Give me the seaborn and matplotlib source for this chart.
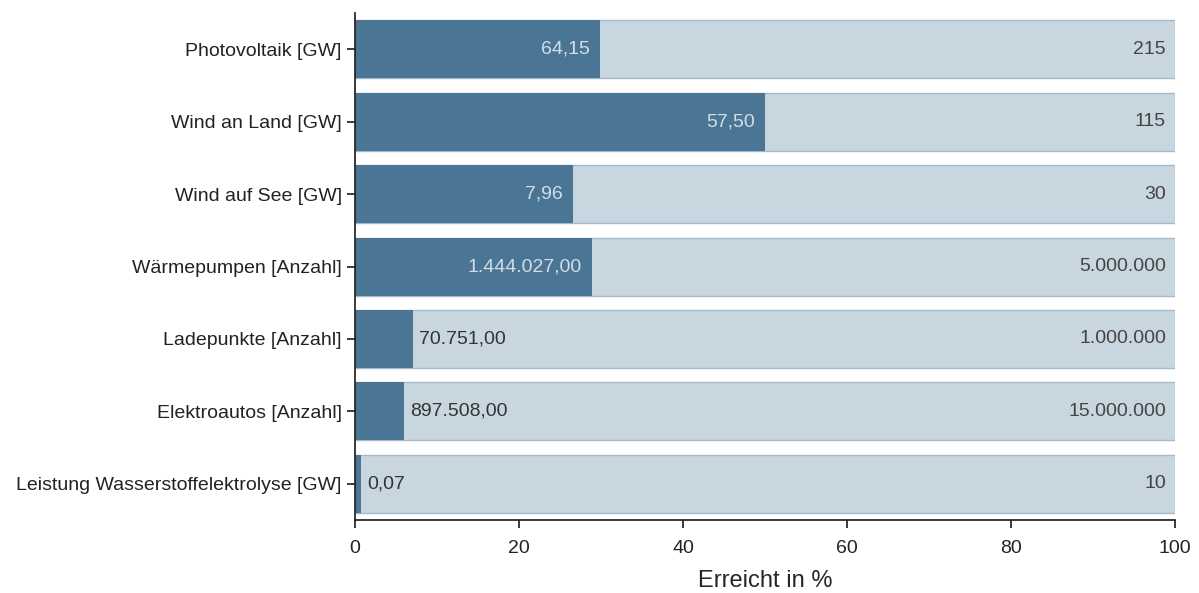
import matplotlib
matplotlib.use("Agg")
import matplotlib.pyplot as plt
import pandas as pd
import seaborn as sns

categories = [
    "Photovoltaik [GW]",
    "Wind an Land [GW]",
    "Wind auf See [GW]",
    "Wärmepumpen [Anzahl]",
    "Ladepunkte [Anzahl]",
    "Elektroautos [Anzahl]",
    "Leistung Wasserstoffelektrolyse [GW]",
]
current = [64.15, 57.50, 7.96, 1444027.00, 70751.00, 897508.00, 0.07]
target = [215, 115, 30, 5000000, 1000000, 15000000, 10]

DARK = "#4a7595"
LIGHT = "#c8d6e0"
EDGE = "#a3bacd"


def de_num(v, decimals):
    s = f"{v:,.{decimals}f}"
    return s.replace(",", "X").replace(".", ",").replace("X", ".")


df = pd.DataFrame({"cat": categories, "cur": current, "target": target})
df["pct"] = df.cur / df.target * 100
df["full"] = 100.0

sns.set_theme(style="ticks")
plt.rcParams["font.family"] = ["Liberation Sans", "DejaVu Sans"]

fig, ax = plt.subplots(figsize=(11.99, 5.93), dpi=100)
sns.barplot(x="full", y="cat", data=df, color=LIGHT, edgecolor=EDGE, linewidth=1,
            saturation=1, ax=ax, orient="h")
sns.barplot(x="pct", y="cat", data=df, color=DARK, saturation=1, linewidth=0,
            ax=ax, orient="h")

for i, r in df.iterrows():
    lab = de_num(r.cur, 2)
    if r.pct > 20:
        ax.text(r.pct - 1.2, i, lab, ha="right", va="center", color="#d3dde6", fontsize=14)
    else:
        ax.text(r.pct + 0.8, i, lab, ha="left", va="center", color="#333333", fontsize=14)
    ax.text(98.9, i, de_num(r.target, 0), ha="right", va="center", color="#444444", fontsize=14)

ax.set_xlim(0, 100)
ax.set_xticks([0, 20, 40, 60, 80, 100])
ax.set_xlabel("Erreicht in %", fontsize=17, labelpad=10)
ax.set_ylabel("")
ax.tick_params(axis="both", labelsize=14, colors="#222222", length=6)
ax.tick_params(axis="x", pad=8)
sns.despine(ax=ax)
for s in ("left", "bottom"):
    ax.spines[s].set_color("#222222")

fig.subplots_adjust(left=0.296, right=0.98, top=0.978, bottom=0.123)
fig.savefig("out.png", dpi=100)
